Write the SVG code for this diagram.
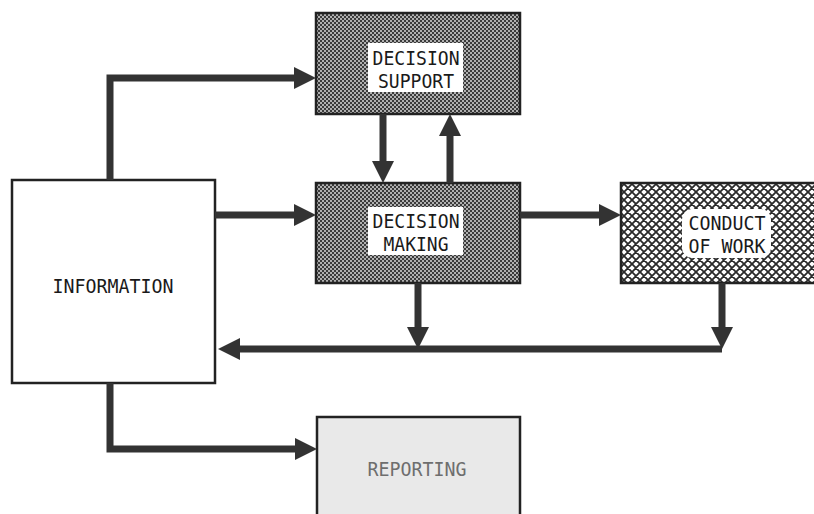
<svg xmlns="http://www.w3.org/2000/svg" width="814" height="514" viewBox="0 0 814 514">
  <defs>
    <!-- dense halftone screen for the decision boxes -->
    <pattern id="halftone" patternUnits="userSpaceOnUse" width="4" height="4">
      <rect width="4" height="4" fill="#b0b0b0"/>
      <rect x="0" y="0" width="2" height="2" fill="#3a3a3a"/>
      <rect x="2" y="2" width="2" height="2" fill="#3a3a3a"/>
    </pattern>
    <!-- diagonal crosshatch for conduct of work -->
    <pattern id="crosshatch" patternUnits="userSpaceOnUse" width="8" height="8">
      <rect width="8" height="8" fill="#ffffff"/>
      <path d="M0,0 L8,8 M8,0 L0,8 M-1,7 L1,9 M7,-1 L9,1 M-1,1 L1,-1 M7,9 L9,7" stroke="#2a2a2a" stroke-width="1.8"/>
    </pattern>
    <marker id="arrow" markerUnits="userSpaceOnUse" markerWidth="24" markerHeight="24" refX="0" refY="11" orient="auto">
      <path d="M0,0 L22,11 L0,22 Z" fill="#333"/>
    </marker>
  </defs>
  <style>
    .box { stroke: #222; stroke-width: 2.5; }
    .label { font-family: "DejaVu Sans Mono", "Liberation Mono", monospace; font-size: 20px; fill: #1a1a1a; text-anchor: middle; }
    .plate { fill: #ffffff; }
    .conn path { fill: none; stroke: #333; stroke-width: 7; stroke-linejoin: miter; marker-end: url(#arrow); }
  </style>

  <rect width="814" height="514" fill="#ffffff"/>

  <g id="information">
    <rect class="box" x="12" y="180" width="203" height="203" fill="#ffffff"/>
    <text class="label" x="113" y="293" textLength="121" lengthAdjust="spacingAndGlyphs">INFORMATION</text>
  </g>

  <g id="decision-support">
    <rect class="box" x="316" y="13" width="204" height="101" fill="url(#halftone)"/>
    <rect class="plate" x="368" y="43" width="95" height="49"/>
    <text class="label" x="416" y="65" textLength="87" lengthAdjust="spacingAndGlyphs">DECISION</text>
    <text class="label" x="416" y="88" textLength="76" lengthAdjust="spacingAndGlyphs">SUPPORT</text>
  </g>

  <g id="decision-making">
    <rect class="box" x="316" y="183" width="204" height="100" fill="url(#halftone)"/>
    <rect class="plate" x="368" y="207" width="95" height="48"/>
    <text class="label" x="416" y="228" textLength="87" lengthAdjust="spacingAndGlyphs">DECISION</text>
    <text class="label" x="416" y="251" textLength="65" lengthAdjust="spacingAndGlyphs">MAKING</text>
  </g>

  <g id="conduct-of-work">
    <rect class="box" x="621" y="183" width="196" height="100" fill="url(#crosshatch)"/>
    <rect class="plate" x="682" y="209" width="89" height="49" rx="10"/>
    <text class="label" x="727" y="230" textLength="77" lengthAdjust="spacingAndGlyphs">CONDUCT</text>
    <text class="label" x="727" y="253" textLength="77" lengthAdjust="spacingAndGlyphs">OF WORK</text>
  </g>

  <g id="reporting">
    <rect class="box" x="317" y="417" width="203" height="110" fill="#e9e9e9"/>
    <text class="label" x="417" y="476" textLength="99" lengthAdjust="spacingAndGlyphs" style="fill:#6e6e6e">REPORTING</text>
  </g>

  <g id="connectors" class="conn">
    <path d="M110,180 V78 H294"/>
    <path d="M383,114 V161"/>
    <path d="M450,183 V136"/>
    <path d="M215,215 H294"/>
    <path d="M520,215 H599"/>
    <path d="M418,283 V327"/>
    <path d="M722,283 V327"/>
    <path d="M722,349 H240"/>
    <path d="M110,383 V449 H295"/>
  </g>
</svg>
